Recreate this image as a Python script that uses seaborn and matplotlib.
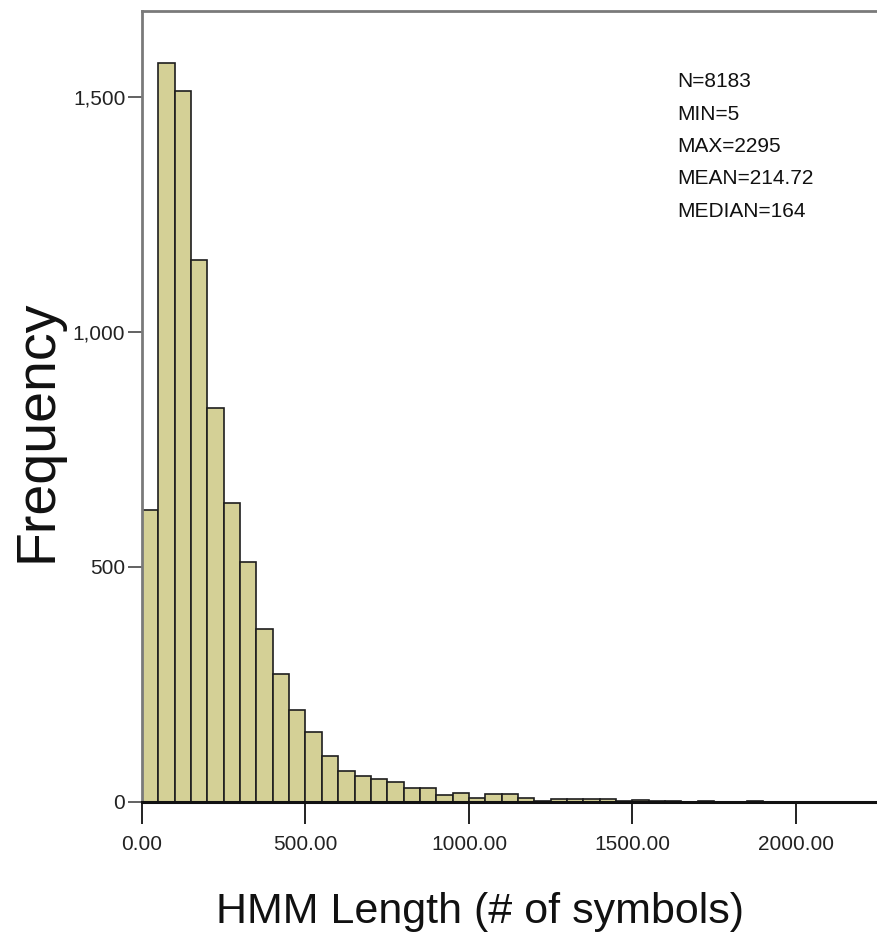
import numpy as np
import pandas as pd
import matplotlib
matplotlib.use("Agg")
import matplotlib.pyplot as plt
import seaborn as sns

# bin counts, bins are 50 symbols wide starting at 0
bin_width = 50
counts = [620, 1573, 1514, 1154, 838, 636, 511, 368, 271, 195,
          149, 97, 66, 55, 48, 41, 29, 29, 14, 18,
          8, 15, 15, 7, 2, 6, 5, 5, 5, 1,
          4, 1, 1, 0, 1, 0, 0, 1, 0, 0,
          0, 0, 0, 0, 0, 1]
bin_starts = np.arange(len(counts)) * bin_width

x_ticks = [0, 500, 1000, 1500, 2000]
y_ticks = [0, 500, 1000, 1500]
stats_lines = ["N=8183", "MIN=5", "MAX=2295", "MEAN=214.72", "MEDIAN=164"]

df = pd.DataFrame({"length": bin_starts + bin_width / 2, "count": counts})

sns.set_style("white")
plt.rcParams["font.family"] = ["Liberation Sans", "DejaVu Sans"]

W, H = 878, 943
fig = plt.figure(figsize=(W / 100, H / 100), dpi=100)
ax = fig.add_axes([142 / W, 1 - 801.5 / H, 752 / W, 791 / H])

sns.histplot(data=df, x="length", weights="count", binwidth=bin_width,
             binrange=(0, len(counts) * bin_width),
             color="#D4D096", edgecolor="#1e1e1e", linewidth=1.2, alpha=1, ax=ax)

ax.set_xlim(0, 2300)
ax.set_ylim(0, 1685)
ax.set_xticks(x_ticks)
ax.set_xticklabels([f"{v:.2f}" for v in x_ticks])
ax.set_yticks(y_ticks)
ax.set_yticklabels([f"{v:,}" for v in y_ticks])
ax.set_xlabel("")
ax.set_ylabel("")

ax.tick_params(axis="x", length=16, width=1.3, color="#111111", labelsize=15,
               labelcolor="#222222", pad=8, direction="out", bottom=True)
ax.tick_params(axis="y", length=10, width=1.3, color="#555555", labelsize=15,
               labelcolor="#222222", pad=2, direction="out", left=True)

for side in ["left", "top"]:
    ax.spines[side].set_color("#7a7a7a")
    ax.spines[side].set_linewidth(2)
ax.spines["bottom"].set_color("#111111")
ax.spines["bottom"].set_linewidth(2.2)
ax.spines["right"].set_visible(False)

# summary stats in the top right
for i, line in enumerate(stats_lines):
    fig.text(677 / W, 1 - (87 + i * 32.5) / H, line, fontsize=15,
             ha="left", va="baseline", color="#111111")

fig.text(38 / W, 1 - 431 / H, "Frequency", fontsize=40, rotation=90,
         ha="center", va="center", color="#111111")
fig.text(480 / W, 1 - 912 / H, "HMM Length (# of symbols)", fontsize=31,
         ha="center", va="center", color="#111111")

fig.savefig("out.png", dpi=100)
